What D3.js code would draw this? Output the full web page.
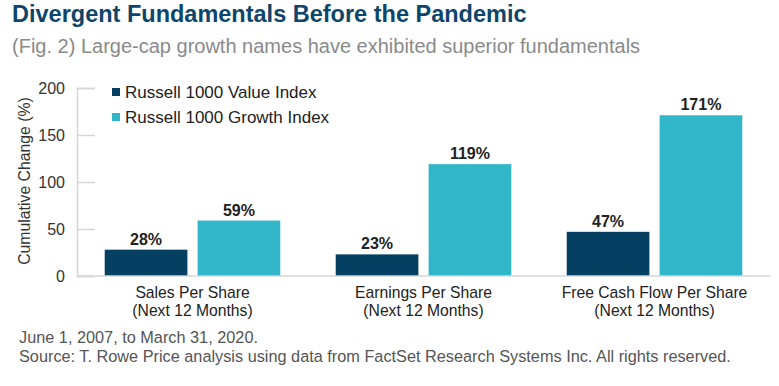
<!DOCTYPE html>
<html>
<head>
<meta charset="utf-8">
<script src="https://cdn.jsdelivr.net/npm/d3@7"></script>
<style>
  body { margin: 0; background: #fff; }
  text { font-family: "Liberation Sans", Arial, sans-serif; }
</style>
</head>
<body>
<div id="chart"></div>
<script>
// chart values
const categories = ["Sales Per Share", "Earnings Per Share", "Free Cash Flow Per Share"];
const series = ["Russell 1000 Value Index", "Russell 1000 Growth Index"];
const valueIndex = [28, 23, 47];
const growthIndex = [59, 119, 171];
const yTicks = [0, 50, 100, 150, 200];

const width = 779, height = 386,
      margin = ({ top: 88, right: 9, bottom: 110, left: 77 });

const colors = ["#053f61", "#31b7c9"];

const data = categories.map((c, i) => ({ cat: c, vals: [valueIndex[i], growthIndex[i]] }));

let svg = d3.select("#chart")
    .append("svg")
    .attr("width", width)
    .attr("height", height);

// title + subtitle
svg.append("text")
    .attr("x", 12).attr("y", 22)
    .attr("font-size", 23.5).attr("font-weight", "bold")
    .attr("fill", "#0e466b")
    .text("Divergent Fundamentals Before the Pandemic");

svg.append("text")
    .attr("x", 12).attr("y", 53)
    .attr("font-size", 20)
    .attr("fill", "#8a8a8a")
    .text("(Fig. 2) Large-cap growth names have exhibited superior fundamentals");

let x0 = d3.scaleBand()
    .domain(categories)
    .range([margin.left, width - margin.right])
    .paddingInner(0.24)
    .paddingOuter(0.12);

let x1 = d3.scaleBand()
    .domain(d3.range(series.length))
    .range([0, x0.bandwidth()])
    .paddingInner(0.11);

let y = d3.scaleLinear()
    .domain([0, 200])
    .range([height - margin.bottom, margin.top]);

// y axis
let yAxis = svg.append("g")
    .attr("transform", `translate(${margin.left},0)`)
    .call(d3.axisRight(y).tickValues(yTicks).tickSize(18).tickFormat(""));
yAxis.select(".domain").attr("stroke", "#d6d6d6").attr("stroke-width", 1.5);
yAxis.selectAll(".tick line").attr("stroke", "#d6d6d6").attr("stroke-width", 1.5);

svg.append("g")
    .selectAll("text")
    .data(yTicks)
    .join("text")
    .attr("x", 65)
    .attr("y", d => y(d) + 6)
    .attr("text-anchor", "end")
    .attr("font-size", 16)
    .attr("fill", "#333")
    .text(d => d);

svg.append("text")
    .attr("transform", `translate(30,${y(100) - 1}) rotate(-90)`)
    .attr("text-anchor", "middle")
    .attr("font-size", 15.8)
    .attr("fill", "#333")
    .text("Cumulative Change (%)");

// bars
let group = svg.selectAll(".grp")
    .data(data)
    .join("g")
    .attr("class", "grp")
    .attr("transform", d => `translate(${x0(d.cat)},0)`);

group.selectAll("rect")
    .data(d => d.vals)
    .join("rect")
    .attr("x", (d, i) => x1(i))
    .attr("width", x1.bandwidth())
    .attr("y", d => y(d))
    .attr("height", d => y(0) - y(d))
    .attr("fill", (d, i) => colors[i]);

group.selectAll(".val")
    .data(d => d.vals)
    .join("text")
    .attr("class", "val")
    .attr("x", (d, i) => x1(i) + x1.bandwidth() / 2)
    .attr("y", d => y(d) - 5)
    .attr("text-anchor", "middle")
    .attr("font-size", 16)
    .attr("font-weight", "bold")
    .attr("fill", "#222")
    .text(d => d + "%");

// baseline
svg.append("line")
    .attr("x1", margin.left).attr("x2", width - margin.right)
    .attr("y1", y(0)).attr("y2", y(0))
    .attr("stroke", "#d6d6d6").attr("stroke-width", 1.5);

// category labels
let cl = svg.append("g")
    .selectAll("text")
    .data(categories)
    .join("text")
    .attr("x", d => x0(d) + x0.bandwidth() / 2)
    .attr("y", 298)
    .attr("text-anchor", "middle")
    .attr("font-size", 15.7)
    .attr("fill", "#222");
cl.append("tspan").attr("x", d => x0(d) + x0.bandwidth() / 2).text(d => d);
cl.append("tspan").attr("x", d => x0(d) + x0.bandwidth() / 2).attr("dy", 18).text("(Next 12 Months)");

// legend
let legend = svg.append("g")
    .selectAll("g")
    .data(series)
    .join("g")
    .attr("transform", (d, i) => `translate(112,${88 + i * 25})`);
legend.append("rect")
    .attr("width", 8).attr("height", 8)
    .attr("fill", (d, i) => colors[i]);
legend.append("text")
    .attr("x", 13).attr("y", 10)
    .attr("font-size", 17)
    .attr("fill", "#222")
    .text(d => d);

// notes
svg.append("text")
    .attr("x", 19).attr("y", 343)
    .attr("font-size", 16.3)
    .attr("fill", "#555")
    .text("June 1, 2007, to March 31, 2020.");
svg.append("text")
    .attr("x", 19).attr("y", 362)
    .attr("font-size", 16.3)
    .attr("fill", "#555")
    .text("Source: T. Rowe Price analysis using data from FactSet Research Systems Inc. All rights reserved.");
</script>
</body>
</html>
